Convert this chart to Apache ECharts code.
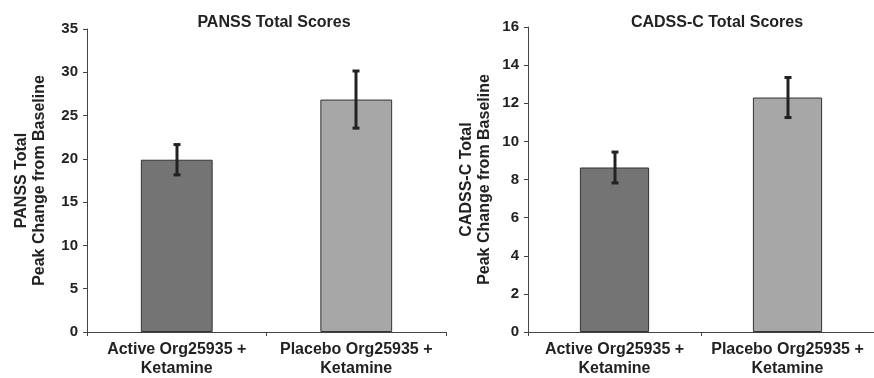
<!DOCTYPE html>
<html>
<head>
<meta charset="utf-8">
<script src="https://cdn.jsdelivr.net/npm/echarts@6/dist/echarts.min.js"></script>
<style>
html,body{margin:0;padding:0;background:#fff;}
#chart{width:874px;height:378px;}
</style>
</head>
<body>
<div id="chart"></div>
<script>
var categories = ['Active Org25935 +\nKetamine', 'Placebo Org25935 +\nKetamine'];
var panssMean = [19.9, 26.85];
var panssErr = [1.75, 3.3];
var cadssMean = [8.63, 12.3];
var cadssErr = [0.81, 1.05];
var panssTicks = {min: 0, max: 35, interval: 5};
var cadssTicks = {min: 0, max: 16, interval: 2};
var barColors = ['#747474', '#a7a7a7'];

var FONT = 'Liberation Sans';
var chart = echarts.init(document.getElementById('chart'));

function errData(mean, err) {
  return mean.map(function (m, i) { return [i, m - err[i], m + err[i]]; });
}
function errRender(params, api) {
  var lo = api.coord([api.value(0), api.value(1)]);
  var hi = api.coord([api.value(0), api.value(2)]);
  var x = Math.round(lo[0]);
  var cap = 3.5;
  var st = {stroke: '#222', lineWidth: 3};
  return {
    type: 'group',
    children: [
      {type: 'line', shape: {x1: x, y1: hi[1], x2: x, y2: lo[1]}, style: st},
      {type: 'line', shape: {x1: x - cap, y1: hi[1], x2: x + cap, y2: hi[1]}, style: st},
      {type: 'line', shape: {x1: x - cap, y1: lo[1], x2: x + cap, y2: lo[1]}, style: st}
    ]
  };
}
function xAxis(gi) {
  return {
    type: 'category', gridIndex: gi, data: categories,
    axisLine: {lineStyle: {color: '#444', width: 1}},
    axisTick: {show: true, length: 4, lineStyle: {color: '#444'}},
    axisLabel: {interval: 0, hideOverlap: false, color: '#222', fontFamily: FONT, fontWeight: 'bold', fontSize: 16, lineHeight: 19, margin: 8}
  };
}
function yAxis(gi, t, name, gap) {
  return {
    type: 'value', gridIndex: gi, min: t.min, max: t.max, interval: t.interval,
    name: name, nameLocation: 'middle', nameGap: gap, nameRotate: 90,
    nameTextStyle: {color: '#222', fontFamily: FONT, fontWeight: 'bold', fontSize: 16, lineHeight: 18},
    axisLine: {show: true, lineStyle: {color: '#444', width: 1}},
    axisTick: {show: true, length: 4, lineStyle: {color: '#444'}},
    splitLine: {show: false},
    axisLabel: {color: '#222', fontFamily: FONT, fontWeight: 'bold', fontSize: 15, margin: 9}
  };
}
function bars(gi, mean) {
  return {
    type: 'bar', xAxisIndex: gi, yAxisIndex: gi, barWidth: '40%',
    data: mean.map(function (v, i) {
      return {value: v, itemStyle: {color: barColors[i], borderColor: '#333', borderWidth: 1}};
    }),
    silent: true
  };
}

chart.setOption({
  animation: false,
  backgroundColor: '#fff',
  title: [
    {text: 'PANSS Total Scores', left: 269, top: 10, textAlign: 'center',
     textStyle: {color: '#222', fontFamily: FONT, fontWeight: 'bold', fontSize: 16}},
    {text: 'CADSS-C Total Scores', left: 712, top: 10, textAlign: 'center',
     textStyle: {color: '#222', fontFamily: FONT, fontWeight: 'bold', fontSize: 16}}
  ],
  grid: [
    {left: 87, right: 428, top: 29, bottom: 46},
    {left: 528, right: -7, top: 27, bottom: 46}
  ],
  xAxis: [xAxis(0), xAxis(1)],
  yAxis: [
    yAxis(0, panssTicks, 'PANSS Total\nPeak Change from Baseline', 38),
    yAxis(1, cadssTicks, 'CADSS-C Total\nPeak Change from Baseline', 34)
  ],
  series: [
    bars(0, panssMean),
    {type: 'custom', xAxisIndex: 0, yAxisIndex: 0, renderItem: errRender, data: errData(panssMean, panssErr), z: 5},
    bars(1, cadssMean),
    {type: 'custom', xAxisIndex: 1, yAxisIndex: 1, renderItem: errRender, data: errData(cadssMean, cadssErr), z: 5}
  ]
});
</script>
</body>
</html>
